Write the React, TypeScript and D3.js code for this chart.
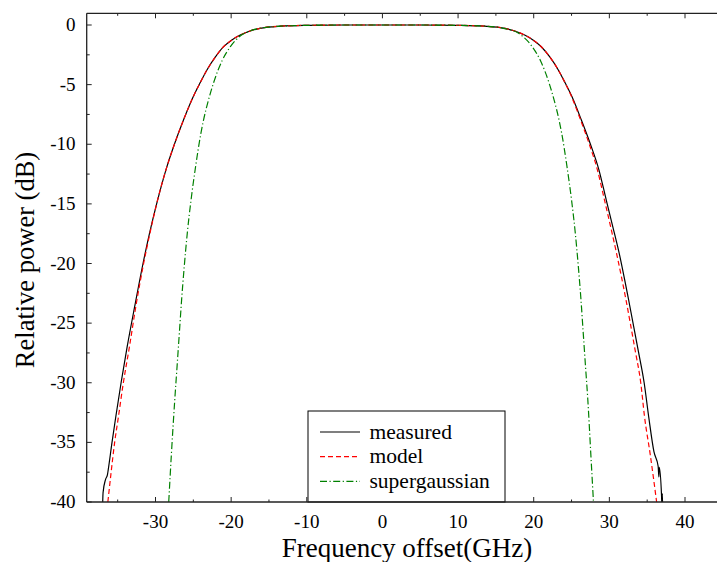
import React from "react";
import * as d3 from "d3";

const measuredF = [-37.0, -36.93, -36.6, -36.35, -36.25, -35.75, -35.25, -34.55, -33.75, -32.75, -31.65, -30.8, -29.85, -28.55, -27.5, -26.3, -25.0, -24.1, -23.2, -22.1, -21.0, -19.9, -18.8, -17.5, -16.2, -13.5, -10, -5, 0, 5, 10, 13.5, 16.2, 17.5, 18.8, 19.9, 21.0, 22.15, 23.25, 24.15, 25.05, 26.3, 27.5, 28.6, 29.6, 30.45, 31.25, 32.55, 33.8, 34.6, 35.2, 35.9, 36.45, 36.55, 36.6, 36.9, 36.95, 37.0, 37.05];
const measuredDb = [-40.5, -39.2, -38.1, -37.7, -37.3, -35, -32.85, -30, -27, -23.6, -20, -17.5, -15, -12, -10, -7.97, -6.0, -4.85, -3.77, -2.7, -1.82, -1.25, -0.84, -0.5, -0.28, -0.1, -0.03, 0, 0, 0, -0.03, -0.1, -0.28, -0.5, -0.84, -1.25, -1.82, -2.7, -3.77, -4.85, -6.0, -7.97, -10, -12.1, -14.7, -16.9, -19, -23.06, -27.25, -30, -32.85, -35.8, -37.0, -37.9, -37.1, -39.5, -40.3, -39.3, -40.5];

const modelF = [-36.3, -35.9, -35.4, -34.9, -34.25, -33.45, -32.6, -31.57, -30.75, -29.85, -28.55, -27.5, -26.3, -25.0, -24.1, -23.2, -22.1, -21.0, -19.9, -18.8, -17.5, -16.2, -13.5, -10, -5, 0, 5, 10, 13.5, 16.2, 17.5, 18.8, 19.9, 21.0, 22.15, 23.25, 24.15, 25.0, 26.2, 27.35, 28.4, 29.4, 30.2, 30.9, 32.2, 33.4, 34.15, 34.65, 35.4, 36.25];
const modelDb = [-40, -37.7, -35, -32.85, -30, -27, -23.6, -20, -17.5, -15, -12, -10, -7.97, -6.0, -4.85, -3.77, -2.7, -1.82, -1.25, -0.84, -0.5, -0.28, -0.1, -0.03, 0, 0, 0, -0.03, -0.1, -0.28, -0.5, -0.84, -1.25, -1.82, -2.7, -3.77, -4.85, -6.0, -7.97, -10, -12.1, -14.8, -17, -19, -23.06, -27.25, -30, -32.85, -36, -40];

const superF = [-28.25, -27.9, -27.45, -27.15, -26.85, -26.55, -26.2, -25.8, -25.3, -24.7, -24.0, -23.65, -23.0, -22.35, -21.2, -20.1, -18.8, -17.5, -16.2, -13.5, -10, -5, 0, 5, 10, 13.5, 16.0, 18.0, 19.8, 20.9, 22.05, 22.7, 23.35, 23.7, 24.4, 25.0, 25.5, 25.9, 26.25, 26.55, 26.85, 27.15, 27.55, 27.9];
const superDb = [-40, -36, -31.4, -28.65, -25.86, -23.06, -20.26, -17.47, -14.67, -11.88, -9.08, -7.97, -6.3, -4.9, -3.0, -1.82, -0.92, -0.5, -0.28, -0.1, -0.03, 0, 0, 0, -0.03, -0.1, -0.28, -0.7, -1.82, -3.0, -4.9, -6.3, -7.97, -9.08, -11.88, -14.67, -17.47, -20.26, -23.06, -25.86, -28.65, -31.4, -36, -40];

const xTicks = [-30, -20, -10, 0, 10, 20, 30, 40];
const xMinor = [-35, -25, -15, -5, 5, 15, 25, 35];
const yTicks = [0, -5, -10, -15, -20, -25, -30, -35, -40];
const yMinor = [-2.5, -7.5, -12.5, -17.5, -22.5, -27.5, -32.5, -37.5];
const seriesNames = ["measured", "model", "supergaussian"];

const W = 717, H = 562;
const L = 86.7, T = 13.3, B = 502;
const x = d3.scaleLinear().domain([-30, 40]).range([155.5, 685]);
const y = d3.scaleLinear().domain([0, -40]).range([25, 502]);
const R = 730;
const FONT = '"Liberation Serif", "Times New Roman", Tinos, serif';

export default function App() {
  const line = d3.line<[number, number]>().x(d => x(d[0])).y(d => y(d[1])).curve(d3.curveMonotoneX);
  const mk = (fs: number[], ds: number[]) => line(fs.map((f, i) => [f, ds[i]] as [number, number])) || "";
  const series = [
    { d: mk(measuredF, measuredDb), color: "#000", dash: "none" },
    { d: mk(modelF, modelDb), color: "#ff0000", dash: "5,3" },
    { d: mk(superF, superDb), color: "#008000", dash: "7,2.5,1.2,2.5" },
  ];
  const frame = "#222";
  const ts = { fontFamily: FONT };
  return (
    <svg width={W} height={H} style={{ position: "absolute", left: 0, top: 0, background: "#fff", fontFamily: FONT }}>
      <defs>
        <clipPath id="plot"><rect x={L} y={T} width={R - L} height={B - T} /></clipPath>
      </defs>
      <g clipPath="url(#plot)">
        {series.map((s, i) => (
          <path key={i} d={s.d} fill="none" stroke={s.color} strokeWidth={1.2} strokeDasharray={s.dash} />
        ))}
      </g>
      <line x1={L} x2={L} y1={T} y2={B} stroke={frame} strokeWidth={1.3} />
      <line x1={L} x2={R} y1={T} y2={T} stroke={frame} strokeWidth={1.3} />
      {xTicks.map(t => (
        <g key={"xt" + t}>
          <line x1={x(t)} x2={x(t)} y1={B} y2={B - 5} stroke={frame} />
          <line x1={x(t)} x2={x(t)} y1={T} y2={T + 5} stroke={frame} />
          <text x={x(t)} y={528} textAnchor="middle" fontSize={19} fill="#000" style={ts}>{t}</text>
        </g>
      ))}
      {xMinor.map(t => (
        <g key={"xm" + t}>
          <line x1={x(t)} x2={x(t)} y1={B} y2={B - 2.5} stroke={frame} />
          <line x1={x(t)} x2={x(t)} y1={T} y2={T + 2.5} stroke={frame} />
        </g>
      ))}
      {yTicks.map(t => (
        <g key={"yt" + t}>
          <line x1={L} x2={L + 5} y1={y(t)} y2={y(t)} stroke={frame} />
          <text x={75.5} y={y(t) + 6} textAnchor="end" fontSize={19} fill="#000" style={ts}>{t}</text>
        </g>
      ))}
      {yMinor.map(t => (
        <line key={"ym" + t} x1={L} x2={L + 3} y1={y(t)} y2={y(t)} stroke={frame} />
      ))}
      <text x={407} y={557} textAnchor="middle" fontSize={27} fill="#000" style={ts}>Frequency offset(GHz)</text>
      <text transform={`translate(34,260) rotate(-90)`} textAnchor="middle" fontSize={26.5} fill="#000" style={ts}>Relative power (dB)</text>
      <rect x={308} y={411} width={197} height={B - 411} fill="#fff" stroke="#000" strokeWidth={1} />
      {seriesNames.map((n, i) => (
        <g key={n}>
          <line x1={320} x2={360} y1={432 + i * 24.7} y2={432 + i * 24.7} stroke={series[i].color} strokeWidth={1.2} strokeDasharray={series[i].dash} />
          <text x={369.5} y={432 + i * 24.7 + 6.5} fontSize={21.5} fill="#000" style={ts}>{n}</text>
        </g>
      ))}
      <line x1={L} x2={R} y1={B} y2={B} stroke={frame} strokeWidth={1.3} />
    </svg>
  );
}
